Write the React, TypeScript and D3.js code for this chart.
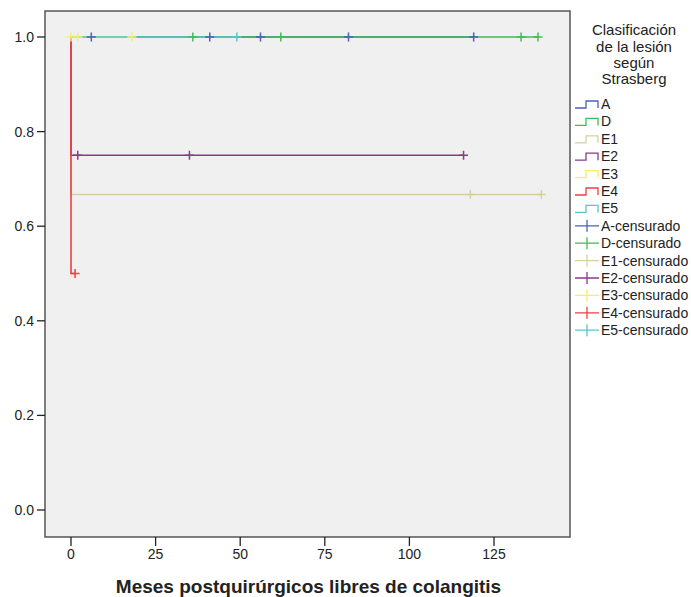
import React, { useRef, useEffect } from 'react';
import * as d3 from 'd3';

// groups, in SPSS draw order
const groups = ['A', 'D', 'E1', 'E2', 'E3', 'E4', 'E5'];
const groupColors = ['#4a62b8', '#3cbf54', '#d6d19c', '#8a3a8c', '#f5f063', '#ef3f44', '#55c8cb'];

// survival level after the drop at t = 0
const levelAfterDrop = [1, 1, 0.667, 0.75, 1, 0.5, 1];

// censored times (months) per group
const censoredA = [6, 41, 56, 82, 119];
const censoredD = [36, 62, 133, 138];
const censoredE1 = [118, 139];
const censoredE2 = [2, 35, 116];
const censoredE3 = [0, 2, 18];
const censoredE4 = [1.2];
const censoredE5 = [49];
const censored = [censoredA, censoredD, censoredE1, censoredE2, censoredE3, censoredE4, censoredE5];

const xTicks = [0, 25, 50, 75, 100, 125];
const yTicks = [0, 0.2, 0.4, 0.6, 0.8, 1.0];

const legendTitle = ['Clasificación', 'de la lesión', 'según', 'Strasberg'];

const App = () => {
  const ref = useRef(null);

  useEffect(() => {
    const svg = d3.select(ref.current);
    svg.selectAll('*').remove();

    const frame = { left: 45, top: 11, right: 570, bottom: 537 };

    const x = d3.scaleLinear().domain([0, 125]).range([71, 494]);
    const y = d3.scaleLinear().domain([0, 1]).range([510, 37]);

    svg
      .append('rect')
      .attr('x', frame.left)
      .attr('y', frame.top)
      .attr('width', frame.right - frame.left)
      .attr('height', frame.bottom - frame.top)
      .attr('fill', '#f0f0f0');

    // curves
    const line = d3
      .line()
      .x((d) => x(d[0]))
      .y((d) => y(d[1]))
      .curve(d3.curveStepAfter);

    const curves = svg.append('g');
    groups.forEach((g, i) => {
      const end = d3.max(censored[i]);
      const lvl = levelAfterDrop[i];
      const pts = [[0, 1], [0, lvl], [end, lvl]];
      curves
        .append('path')
        .attr('d', line(pts))
        .attr('fill', 'none')
        .attr('stroke', groupColors[i])
        .attr('stroke-width', 1.6);
    });

    // censor marks
    const marks = svg.append('g');
    groups.forEach((g, i) => {
      const lvl = levelAfterDrop[i];
      censored[i].forEach((t) => {
        const cx = x(t);
        const cy = y(lvl);
        marks
          .append('path')
          .attr('d', `M${cx - 4.5},${cy}H${cx + 4.5}M${cx},${cy - 4.5}V${cy + 4.5}`)
          .attr('stroke', groupColors[i])
          .attr('stroke-width', 1.5);
      });
    });

    // frame
    svg
      .append('rect')
      .attr('x', frame.left)
      .attr('y', frame.top)
      .attr('width', frame.right - frame.left)
      .attr('height', frame.bottom - frame.top)
      .attr('fill', 'none')
      .attr('stroke', '#555')
      .attr('stroke-width', 1.5);

    // y axis
    const yAxis = svg.append('g');
    yTicks.forEach((v) => {
      yAxis
        .append('line')
        .attr('x1', 37)
        .attr('x2', frame.left)
        .attr('y1', y(v))
        .attr('y2', y(v))
        .attr('stroke', '#222')
        .attr('stroke-width', 1.3);
      yAxis
        .append('text')
        .attr('x', 34)
        .attr('y', y(v))
        .attr('dy', '0.36em')
        .attr('text-anchor', 'end')
        .attr('font-size', 14)
        .attr('fill', '#222')
        .text(d3.format('.1f')(v));
    });

    // x axis
    const xAxis = svg.append('g');
    xTicks.forEach((v) => {
      xAxis
        .append('line')
        .attr('x1', x(v))
        .attr('x2', x(v))
        .attr('y1', frame.bottom)
        .attr('y2', 546)
        .attr('stroke', '#222')
        .attr('stroke-width', 1.3);
      xAxis
        .append('text')
        .attr('x', x(v))
        .attr('y', 554)
        .attr('dy', '0.36em')
        .attr('text-anchor', 'middle')
        .attr('font-size', 14)
        .attr('fill', '#222')
        .text(v);
    });

    svg
      .append('text')
      .attr('x', (frame.left + frame.right) / 2 + 1)
      .attr('y', 586)
      .attr('dy', '0.36em')
      .attr('text-anchor', 'middle')
      .attr('font-size', 19)
      .attr('font-weight', 'bold')
      .attr('fill', '#222')
      .text('Meses postquirúrgicos libres de colangitis');

    // legend
    const legend = svg.append('g');
    legendTitle.forEach((t, i) => {
      legend
        .append('text')
        .attr('x', 634)
        .attr('y', 30 + i * 16.3)
        .attr('dy', '0.36em')
        .attr('text-anchor', 'middle')
        .attr('font-size', 15)
        .attr('fill', '#222')
        .text(t);
    });

    const rowY = (k) => 104 + k * 17.4;
    groups.forEach((g, i) => {
      const cy = rowY(i);
      legend
        .append('path')
        .attr('d', `M575,${cy + 4}H586V${cy - 3}H598V${cy + 4}`)
        .attr('fill', 'none')
        .attr('stroke', groupColors[i])
        .attr('stroke-width', 1.3);
      legend
        .append('text')
        .attr('x', 601)
        .attr('y', cy)
        .attr('dy', '0.36em')
        .attr('font-size', 14)
        .attr('fill', '#222')
        .text(g);
    });
    groups.forEach((g, i) => {
      const cy = rowY(i + groups.length);
      legend
        .append('path')
        .attr('d', `M575,${cy}H599M587,${cy - 6}V${cy + 6}`)
        .attr('stroke', groupColors[i])
        .attr('stroke-width', 1.3);
      legend
        .append('text')
        .attr('x', 601)
        .attr('y', cy)
        .attr('dy', '0.36em')
        .attr('font-size', 14)
        .attr('fill', '#222')
        .text(`${g}-censurado`);
    });
  }, []);

  return (
    <svg
      ref={ref}
      width={691}
      height={597}
      style={{ position: 'absolute', left: 0, top: 0, fontFamily: '"Liberation Sans", Arial, sans-serif', background: '#fff' }}
    />
  );
};

export default App;
